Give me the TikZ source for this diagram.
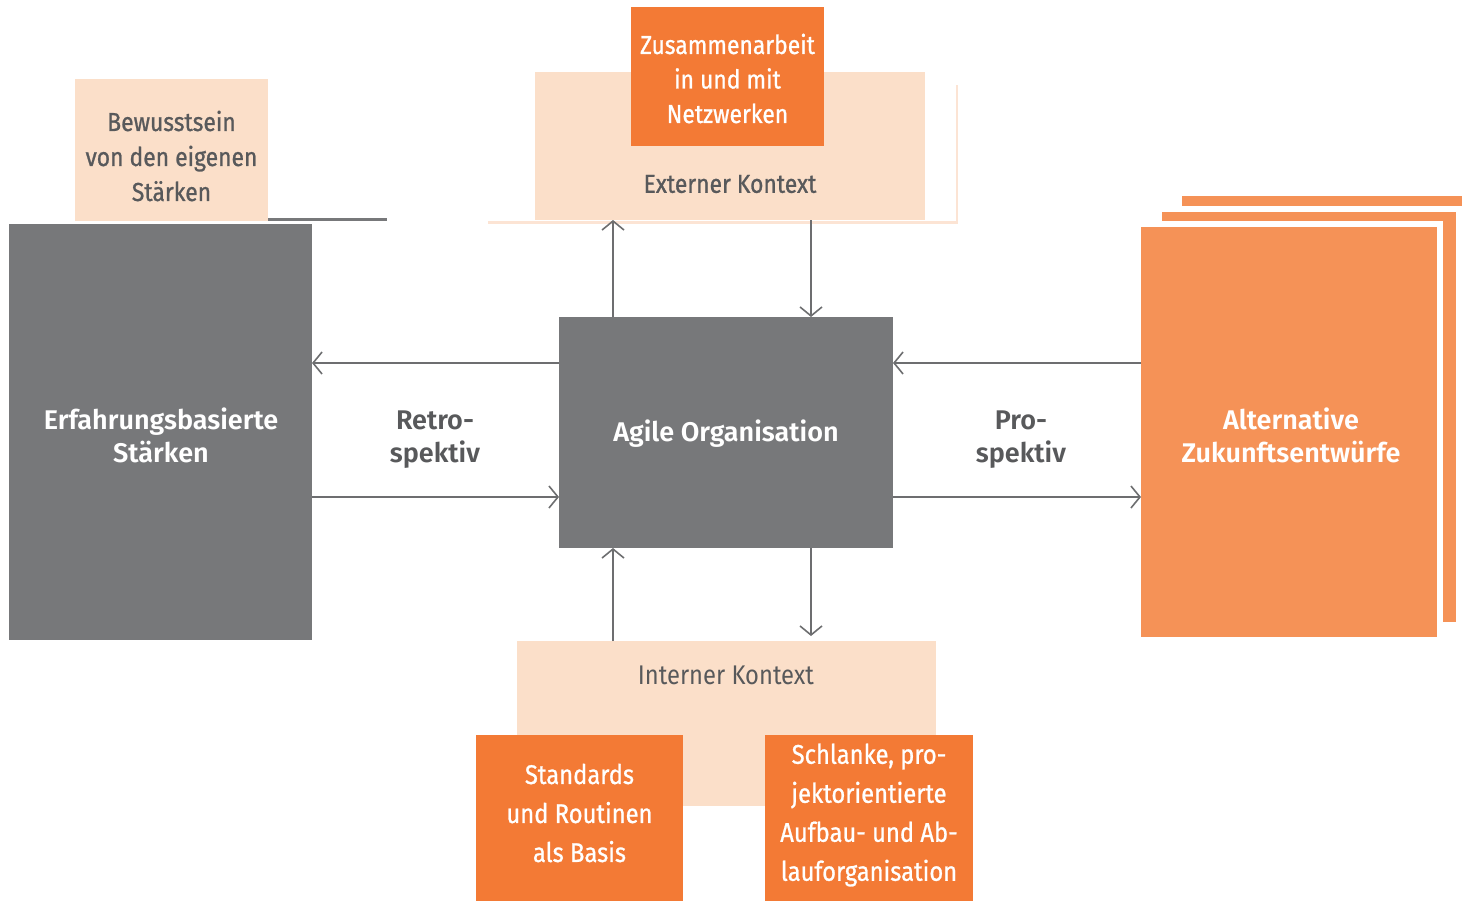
\documentclass[tikz,border=0pt]{standalone}
\usepackage{fontspec}
\setmainfont{Fira Sans}[BoldFont={* SemiBold}]
\newfontfamily\condfont[FakeStretch=0.88]{Fira Sans}
\newfontfamily\condmed[FakeStretch=0.88,FakeBold=0.9]{Fira Sans}
\usetikzlibrary{arrows.meta,calc}
\definecolor{peach}{HTML}{FBDFC9}
\definecolor{peachline}{HTML}{FCE4D4}
\definecolor{orangeA}{HTML}{F37A35}
\definecolor{orangeB}{HTML}{F59257}
\definecolor{slate}{HTML}{77787A}
\definecolor{ink}{HTML}{58595B}
\definecolor{wire}{HTML}{6D6E70}
\begin{document}
\begin{tikzpicture}[x=1pt,y=-1pt,
  box/.style={anchor=north west, inner sep=0pt, outer sep=0pt, align=center},
  peachbox/.style={box, fill=peach},
  orangebox/.style={box, fill=orangeA},
  slatebox/.style={box, fill=slate},
  boldwhite/.style={inner sep=0pt, align=center, text=white, font=\bfseries\fontsize{27}{33}\selectfont},
  condtext/.style={inner sep=0pt, align=center, text=ink, font=\condmed\fontsize{26}{35}\selectfont},
  whitetext/.style={inner sep=0pt, align=center, text=white, font=\condmed\fontsize{26}{34.5}\selectfont},
  sidetext/.style={inner sep=0pt, align=center, text=ink, font=\bfseries\fontsize{27}{33}\selectfont},
  arr/.style={draw=wire, line width=1.8pt, -{Straight Barb[length=9pt,width=22pt,line width=1.6pt]}},
]
\useasboundingbox (0,0) rectangle (1462,900);
\begin{scope}
\clip (0,0) rectangle (1462,900);

% awareness box and rule beside it
\node[peachbox, minimum width=193pt, minimum height=142pt] (bew) at (75,79) {};
\node[condtext] (bewtext) at ($(bew.center)+(0,6)$) {Bewusstsein\\von den eigenen\\Stärken};
\draw[slate, line width=3pt] (bew.south east) ++(0,-1.5) -- ++(119,0);

% external context
\draw[peachline, line width=3pt] (488,222) -- (958,222);
\draw[peachline, line width=1.5pt] (957,85) -- (957,222);
\node[peachbox, minimum width=390pt, minimum height=148pt] (ext) at (535,72) {};
\node[condtext] (extlabel) at (730,184) {Externer Kontext};
\node[orangebox, minimum width=193pt, minimum height=139pt] (netz) at (631,7) {};
\node[whitetext] (netztext) at ($(netz.center)+(0,2)$) {Zusammenarbeit\\in und mit\\Netzwerken};

% experience-based strengths
\node[slatebox, minimum width=303pt, minimum height=416pt] (erf) at (9,224) {};
\node[boldwhite] (erftext) at (161,435.5) {Erfahrungsbasierte\\Stärken};

% agile organisation
\node[slatebox, minimum width=334pt, minimum height=231pt] (agile) at (559,317) {};
\node[boldwhite] (agiletext) at (726,434) {Agile Organisation};

% stacked future drafts
\fill[orangeB] (1182,196) rectangle (1476,606);
\fill[white] (1156,206) rectangle (1462,628);
\fill[orangeB] (1162,212) rectangle (1456,622);
\fill[white] (1135,221) rectangle (1443,643);
\node[box, fill=orangeB, minimum width=296pt, minimum height=410pt] (alt) at (1141,227) {};
\node[boldwhite] (alttext) at (1291,435.5) {Alternative\\Zukunftsentwürfe};

% internal context
\node[peachbox, minimum width=419pt, minimum height=165pt] (int) at (517,641) {};
\node[condtext, font=\condfont\fontsize{27}{35}\selectfont] (intlabel) at (726,675) {Interner Kontext};
\node[orangebox, minimum width=207pt, minimum height=170pt] (std) at (476,735) {};
\node[whitetext, font=\condmed\fontsize{27}{39}\selectfont] (stdtext) at (579.5,813)
  {Standards\\und Routinen\\als Basis};
\node[orangebox, minimum width=208pt, minimum height=170pt] (schl) at (765,735) {};
\node[whitetext, font=\condmed\fontsize{27}{39}\selectfont] (schltext) at (869,815)
  {Schlanke, pro-\\jektorientierte\\Aufbau- und Ab-\\lauforganisation};

% side labels
\node[sidetext] (retro) at (435,440) {Retro-\\spektiv};
\node[sidetext] (pro) at (1021,440) {Pro-\\spektiv};

% connectors
\coordinate (aUp) at ($(agile.north west)+(54,0)$);
\coordinate (aDn) at ($(agile.north west)+(252,0)$);
\coordinate (bUp) at ($(agile.south west)+(54,0)$);
\coordinate (bDn) at ($(agile.south west)+(252,0)$);
\coordinate (lHi) at ($(agile.north west)+(0,46)$);
\coordinate (lLo) at ($(agile.north west)+(0,180)$);
\coordinate (rHi) at ($(agile.north east)+(0,46)$);
\coordinate (rLo) at ($(agile.north east)+(0,180)$);

\draw[arr] (aUp) -- (aUp |- ext.south);
\draw[arr] (aDn |- ext.south) -- (aDn);
\draw[arr] (bUp |- int.north) -- (bUp);
\draw[arr, shorten >=5pt] (bDn) -- (bDn |- int.north);
\draw[arr] (lHi) -- (erf.east |- lHi);
\draw[arr] (erf.east |- lLo) -- (lLo);
\draw[arr] (alt.west |- rHi) -- (rHi);
\draw[arr] (rLo) -- (alt.west |- rLo);
\end{scope}
\end{tikzpicture}
\end{document}
